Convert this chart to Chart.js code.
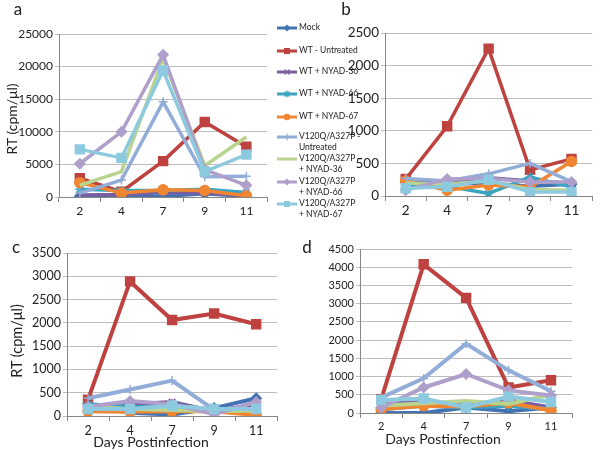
<!DOCTYPE html>
<html>
<head>
<meta charset="utf-8">
<script src="https://cdn.jsdelivr.net/npm/chart.js@4.4.1/dist/chart.umd.min.js"></script>
<style>
  body { margin: 0; background: #fff; }
  #wrap { position: relative; width: 600px; height: 450px; overflow: hidden; font-family: Lato, "Open Sans", sans-serif; color: #222; }
  #wrap canvas { position: absolute; }
  .txt { position: absolute; white-space: nowrap; line-height: 1; }
  .rot { transform: translate(-50%, -50%) rotate(-90deg); }
  .ctr { transform: translate(-50%, -50%); }
  #legend { position: absolute; left: 0; top: 0; z-index: 2; }
  .leg { position: absolute; left: 277px; width: 95px; height: 22px; font-size: 8.5px; line-height: 11px; }
  .leg canvas.icon { position: absolute; left: 0; top: 1px; }
  .leg span { position: absolute; left: 22px; top: 0; white-space: nowrap; }
</style>
</head>
<body>
<div id="wrap">
  <canvas id="chart-a" width="275" height="225" style="left:0;top:0"></canvas>
  <canvas id="chart-b" width="260" height="225" style="left:340px;top:0"></canvas>
  <canvas id="chart-c" width="285" height="222" style="left:0;top:228px"></canvas>
  <canvas id="chart-d" width="280" height="222" style="left:300px;top:228px"></canvas>

  <div class="txt ctr" style="left:18px;top:8px;font-size:17px">a</div>
  <div class="txt ctr" style="left:346px;top:8px;font-size:17px">b</div>
  <div class="txt ctr" style="left:16px;top:246px;font-size:17px">c</div>
  <div class="txt ctr" style="left:307px;top:246px;font-size:17px">d</div>

  <div class="txt rot" style="left:12px;top:119px;font-size:14px">RT (cpm/μl)</div>
  <div class="txt rot" style="left:17px;top:341px;font-size:14.5px">RT (cpm/μl)</div>
  <div class="txt ctr" style="left:151px;top:442px;font-size:14px">Days Postinfection</div>
  <div class="txt ctr" style="left:443px;top:439px;font-size:14px">Days Postinfection</div>

  <div id="legend"></div>
</div>

<script>
/* ── Data ─────────────────────────────────────────────────── */
const DAYS = ['2', '4', '7', '9', '11'];

const SERIES_NAMES = [
  ['Mock'],
  ['WT - Untreated'],
  ['WT + NYAD-36'],
  ['WT + NYAD-66'],
  ['WT + NYAD-67'],
  ['V120Q/A327P -', 'Untreated'],
  ['V120Q/A327P', '+ NYAD-36'],
  ['V120Q/A327P', '+ NYAD-66'],
  ['V120Q/A327P', '+ NYAD-67'],
];
const SERIES_COLORS  = ['#4473B4', '#BE4340', '#7B5E9F', '#3AA3C0', '#F08532', '#93ADD9', '#B9D48E', '#AF9FCB', '#8DCAE0'];
const SERIES_MARKERS = ['rectRot', 'rect', 'crossRot', 'star', 'circle', 'cross', 'line', 'rectRot', 'rect'];

// panel a
const A_MOCK = [100, 300, 100, 500, 100];
const A_WTU  = [2900, 800, 5500, 11500, 7700];
const A_WT36 = [300, 400, 700, 600, 200];
const A_WT66 = [1200, 1000, 1000, 1200, 700];
const A_WT67 = [2200, 600, 1100, 1000, 200];
const A_VU   = [600, 2600, 14600, 3100, 3200];
const A_V36  = [1800, 3900, 21300, 4800, 9200];
const A_V66  = [5100, 10000, 21800, 4200, 1800];
const A_V67  = [7300, 6000, 19400, 3900, 6500];

// panel b
const B_MOCK = [220, 180, 200, 150, 180];
const B_WTU  = [260, 1070, 2260, 400, 570];
const B_WT36 = [200, 230, 280, 230, 200];
const B_WT66 = [160, 150, 40, 290, 140];
const B_WT67 = [230, 90, 170, 140, 530];
const B_VU   = [270, 230, 340, 500, 220];
const B_V36  = [200, 180, 230, 100, 90];
const B_V66  = [90, 260, 270, 215, 215];
const B_V67  = [120, 140, 250, 60, 60];

// panel c
const C_MOCK = [250, 70, 30, 170, 380];
const C_WTU  = [350, 2890, 2060, 2200, 1970];
const C_WT36 = [200, 250, 300, 100, 250];
const C_WT66 = [250, 200, 180, 100, 120];
const C_WT67 = [100, 90, 100, 100, 20];
const C_VU   = [380, 570, 760, 130, 150];
const C_V36  = [200, 150, 130, 100, 120];
const C_V66  = [200, 320, 250, 40, 300];
const C_V67  = [150, 150, 220, 150, 150];

// panel d
const D_MOCK = [0, 0, 150, 50, 150];
const D_WTU  = [380, 4080, 3160, 700, 900];
const D_WT36 = [250, 300, 200, 350, 150];
const D_WT66 = [100, 200, 150, 200, 100];
const D_WT67 = [100, 200, 180, 280, 70];
const D_VU   = [420, 950, 1900, 1170, 600];
const D_V36  = [200, 270, 330, 250, 500];
const D_V66  = [150, 700, 1070, 620, 480];
const D_V67  = [360, 400, 150, 450, 300];

/* ── Panels ───────────────────────────────────────────────── */
const PANELS = [
  { id: 'chart-a', series: [A_MOCK, A_WTU, A_WT36, A_WT66, A_WT67, A_VU, A_V36, A_V66, A_V67],
    max: 25000, step: 5000, font: 12,   line: 3.5, area: { l: 59, r: 269, t: 34, b: 197 } },
  { id: 'chart-b', series: [B_MOCK, B_WTU, B_WT36, B_WT66, B_WT67, B_VU, B_V36, B_V66, B_V67],
    max: 2500,  step: 500,  font: 13.5, line: 3.5, area: { l: 45, r: 257, t: 33, b: 196 } },
  { id: 'chart-c', series: [C_MOCK, C_WTU, C_WT36, C_WT66, C_WT67, C_VU, C_V36, C_V66, C_V67],
    max: 3500,  step: 500,  font: 12.5, line: 4,   area: { l: 67, r: 279, t: 25, b: 188 } },
  { id: 'chart-d', series: [D_MOCK, D_WTU, D_WT36, D_WT66, D_WT67, D_VU, D_V36, D_V66, D_V67],
    max: 4500,  step: 500,  font: 11,   line: 4,   area: { l: 60, r: 273, t: 21, b: 185 } },
];

const FONT = 'Lato, "Open Sans", sans-serif';

// marker radius per point style (Chart.js sizes rects by the inscribed radius)
const MARKER_RADIUS = { rectRot: 5, rect: 6.3, crossRot: 4.5, star: 4.5, circle: 5, cross: 4.5, line: 0 };

function buildChart(p) {
  const canvas = document.getElementById(p.id);
  const n = p.series.length;

  const datasets = p.series.map((values, i) => ({
    label: SERIES_NAMES[i].join(' '),
    data: values,
    borderColor: SERIES_COLORS[i],
    backgroundColor: SERIES_COLORS[i],
    pointBackgroundColor: SERIES_COLORS[i],
    pointBorderColor: SERIES_COLORS[i],
    borderWidth: p.line,
    pointStyle: SERIES_MARKERS[i],
    pointRadius: MARKER_RADIUS[SERIES_MARKERS[i]],
    pointBorderWidth: 1.5,
    tension: 0,
    order: n - i,   // later series drawn on top, like the source
  }));

  return new Chart(canvas, {
    type: 'line',
    data: { labels: DAYS, datasets },
    options: {
      responsive: false,
      animation: false,
      events: [],
      layout: { padding: { left: 0, top: p.area.t, right: canvas.width - p.area.r, bottom: 0 } },
      plugins: { legend: { display: false }, title: { display: false }, tooltip: { enabled: false } },
      scales: {
        x: {
          type: 'category',
          offset: true,
          grid: { offset: true, drawOnChartArea: false, drawTicks: true, tickLength: 5, color: '#868686' },
          border: { display: true, color: '#868686', width: 1 },
          ticks: { padding: 2, color: '#222', font: { family: FONT, size: p.font }, maxRotation: 0, autoSkip: false },
          afterFit: s => { s.height = canvas.height - p.area.b; },
        },
        y: {
          min: 0,
          max: p.max,
          grid: { color: '#bdbdbd', lineWidth: 1, drawTicks: true, tickLength: 4 },
          border: { display: true, color: '#868686', width: 1 },
          ticks: { stepSize: p.step, padding: 2, color: '#222', font: { family: FONT, size: p.font },
                   callback: v => String(v) },
          afterFit: s => { s.width = p.area.l; },
        },
      },
    },
  });
}

/* ── Legend (HTML, sits between panels a and b) ───────────── */
const LEGEND_TOPS = [28, 51, 72, 94, 117, 137, 159, 182, 204];

function drawIcon(cv, marker, color) {
  const ctx = cv.getContext('2d');
  ctx.strokeStyle = color;
  ctx.fillStyle = color;
  ctx.lineWidth = 3;
  ctx.beginPath(); ctx.moveTo(0, 5); ctx.lineTo(20, 5); ctx.stroke();
  ctx.lineWidth = 1.2;
  ctx.beginPath();
  if (marker === 'rectRot') {
    ctx.moveTo(10, 1.5); ctx.lineTo(13.5, 5); ctx.lineTo(10, 8.5); ctx.lineTo(6.5, 5); ctx.closePath(); ctx.fill();
  } else if (marker === 'rect') {
    ctx.fillRect(7, 2, 6, 6);
  } else if (marker === 'circle') {
    ctx.arc(10, 5, 3.3, 0, Math.PI * 2); ctx.fill();
  } else if (marker === 'crossRot' || marker === 'star') {
    ctx.moveTo(7.5, 2.5); ctx.lineTo(12.5, 7.5); ctx.moveTo(12.5, 2.5); ctx.lineTo(7.5, 7.5);
    if (marker === 'star') { ctx.moveTo(10, 1.5); ctx.lineTo(10, 8.5); }
    ctx.stroke();
  } else if (marker === 'cross') {
    ctx.moveTo(10, 1.5); ctx.lineTo(10, 8.5); ctx.moveTo(6.5, 5); ctx.lineTo(13.5, 5); ctx.stroke();
  }
}

function renderLegend() {
  const el = document.getElementById('legend');
  el.innerHTML = SERIES_NAMES.map((lines, i) => `
    <div class="leg" style="top:${LEGEND_TOPS[i] - 6}px"><canvas class="icon" width="20" height="10"></canvas><span>${lines.join('<br>')}</span></div>`).join('');
  el.querySelectorAll('canvas.icon').forEach((cv, i) => drawIcon(cv, SERIES_MARKERS[i], SERIES_COLORS[i]));
}

renderLegend();
PANELS.forEach(buildChart);
</script>
</body>
</html>
